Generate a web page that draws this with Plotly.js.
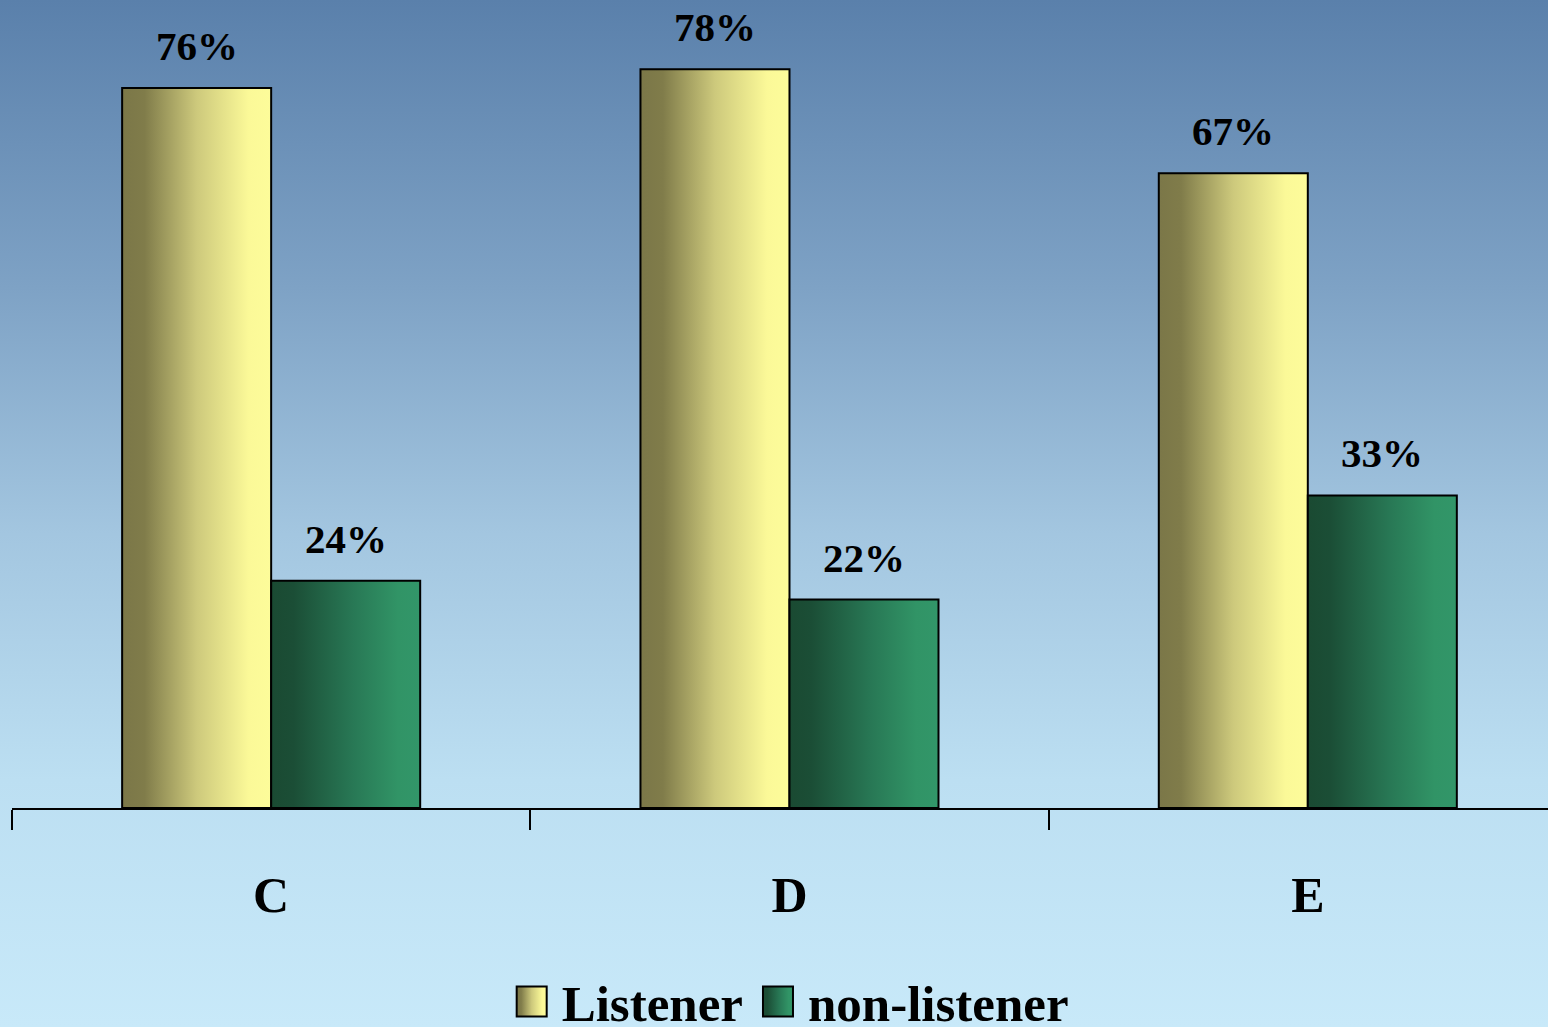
<!DOCTYPE html>
<html><head><meta charset="utf-8">
<script src="https://cdn.plot.ly/plotly-3.0.1.min.js"></script>
<style>
html,body{margin:0;padding:0;width:1548px;height:1027px;overflow:hidden;
background:linear-gradient(to bottom,#5a80ab 0%,#7ea2c5 28%,#a3c6e0 52%,#bcdff2 76%,#c8e9f9 100%);}
#chart{width:1548px;height:1027px;}
</style>
</head><body><div id="chart"></div>
<script>
const categories = ['C', 'D', 'E'];
const listener = [76, 78, 67];
const nonListener = [24, 22, 33];
const seriesNames = ['Listener', 'non-listener'];

const FONT = '"Liberation Serif", "Times New Roman", serif';
const ml = 12, mr = 0, mt = 0, mb = 219;
const xRange = [-0.5, 2.4634];
const bargap = 0.425;
const plotW = 1548 - ml - mr;
const pxPerCat = plotW / (xRange[1] - xRange[0]);
const shift = pxPerCat * (1 - bargap) / 4;

const traces = [
  {type:'bar', name:seriesNames[0], x:categories, y:listener,
   marker:{color:'#dcd98a', line:{color:'#000', width:2}}, hoverinfo:'none'},
  {type:'bar', name:seriesNames[1], x:categories, y:nonListener,
   marker:{color:'#267650', line:{color:'#000', width:2}}, hoverinfo:'none'}
];

const annotations = [];
[listener, nonListener].forEach((vals, si) => {
  vals.forEach((v, i) => {
    annotations.push({x:categories[i], y:v, xref:'x', yref:'y', text:'<b>'+v+'%</b>',
      showarrow:false, yanchor:'bottom', xanchor:'center',
      xshift: si === 0 ? -shift : shift, yshift: 17,
      font:{family:FONT, size:41, color:'#000'}});
  });
});

const layout = {
  width:1548, height:1027,
  margin:{l:ml, r:mr, t:mt, b:mb, pad:0, autoexpand:false},
  paper_bgcolor:'rgba(0,0,0,0)', plot_bgcolor:'rgba(0,0,0,0)',
  barmode:'group', bargap:bargap, bargroupgap:0,
  showlegend:true,
  legend:{orientation:'h', x:0.505, xanchor:'center', y:-0.24, yanchor:'middle',
    font:{family:FONT, size:51, color:'#000', weight:'bold'}, bgcolor:'rgba(0,0,0,0)',
    itemwidth:50, traceorder:'normal'},
  xaxis:{type:'category', range:xRange, showline:true, linecolor:'#000', linewidth:2,
    ticks:'outside', ticklen:20, tickwidth:2, tickcolor:'#000', tickson:'boundaries',
    showgrid:false, zeroline:false, ticklabelstandoff:42, automargin:false,
    tickfont:{family:FONT, size:50, color:'#000', weight:'bold'}},
  yaxis:{range:[0, 85.3], visible:false, showgrid:false, zeroline:false, automargin:false},
  annotations:annotations
};

Plotly.newPlot('chart', traces, layout, {staticPlot:true, displayModeBar:false}).then(gd => {
  const svg = gd.querySelector('.main-svg');
  const ns = 'http://www.w3.org/2000/svg';
  let defs = svg.querySelector('defs');
  if (!defs) { defs = document.createElementNS(ns, 'defs'); svg.insertBefore(defs, svg.firstChild); }
  function grad(id, stops) {
    const g = document.createElementNS(ns, 'linearGradient');
    g.setAttribute('id', id);
    g.setAttribute('x1', '0'); g.setAttribute('y1', '0'); g.setAttribute('x2', '1'); g.setAttribute('y2', '0');
    stops.forEach(([o, c]) => {
      const s = document.createElementNS(ns, 'stop');
      s.setAttribute('offset', o); s.setAttribute('stop-color', c);
      g.appendChild(s);
    });
    defs.appendChild(g);
  }
  grad('gradL', [['0', '#7b7748'], ['0.15', '#807c4a'], ['0.5', '#cdc97c'], ['0.85', '#fbf998'], ['1', '#fdfc9a']]);
  grad('gradN', [['0', '#1a4a32'], ['0.15', '#1b4e36'], ['0.55', '#287855'], ['0.85', '#319466'], ['1', '#329669']]);
  const ids = ['gradL', 'gradN'];
  gd.querySelectorAll('.barlayer .trace').forEach((t, i) => {
    t.querySelectorAll('path').forEach(p => { p.style.fill = 'url(#' + ids[i] + ')'; });
  });
  gd.querySelectorAll('.legend [clip-path]').forEach(el => el.removeAttribute('clip-path'));
  gd.querySelectorAll('.legend .traces').forEach((t, i) => {
    t.querySelectorAll('.legendpoints path').forEach(p => {
      p.style.fill = 'url(#' + ids[i] + ')';
      p.style.strokeWidth = '0.8px';
      const tr = p.getAttribute('transform') || '';
      p.setAttribute('transform', tr + ' scale(2.5)');
    });
  });
});
</script>
</body></html>
